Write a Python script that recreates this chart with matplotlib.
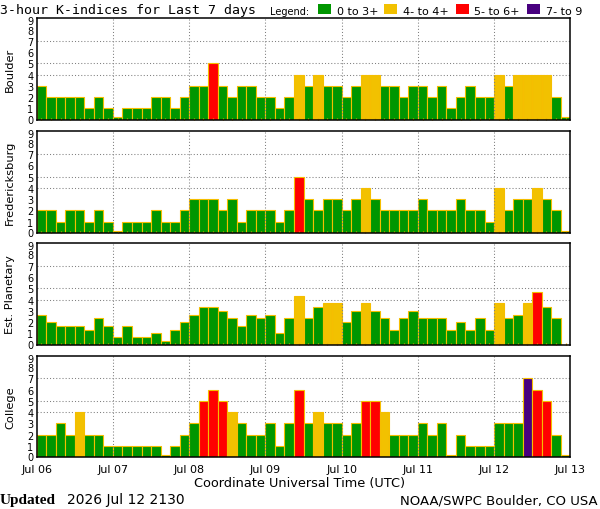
import numpy as np
import matplotlib
matplotlib.use("Agg")
import matplotlib.pyplot as plt
from matplotlib.patches import Rectangle
from matplotlib.transforms import ScaledTranslation

# 3-hour K-indices, 8 values per day, Jul 06 00 UTC .. Jul 12 21 UTC
stations = ["Boulder", "Fredericksburg", "Est. Planetary", "College"]

boulder = [3, 2, 2, 2, 2, 1, 2, 1,
           0, 1, 1, 1, 2, 2, 1, 2,
           3, 3, 5, 3, 2, 3, 3, 2,
           2, 1, 2, 4, 3, 4, 3, 3,
           2, 3, 4, 4, 3, 3, 2, 3,
           3, 2, 3, 1, 2, 3, 2, 2,
           4, 3, 4, 4, 4, 4, 2, 0]

fredericksburg = [2, 2, 1, 2, 2, 1, 2, 1,
                  0, 1, 1, 1, 2, 1, 1, 2,
                  3, 3, 3, 2, 3, 1, 2, 2,
                  2, 1, 2, 5, 3, 2, 3, 3,
                  2, 3, 4, 3, 2, 2, 2, 2,
                  3, 2, 2, 2, 3, 2, 2, 1,
                  4, 2, 3, 3, 4, 3, 2, 0]

planetary = [2.67, 2.0, 1.67, 1.67, 1.67, 1.33, 2.33, 1.67,
             0.67, 1.67, 0.67, 0.67, 1.0, 0.33, 1.33, 2.0,
             2.67, 3.33, 3.33, 3.0, 2.33, 1.67, 2.67, 2.33,
             2.67, 1.0, 2.33, 4.33, 2.33, 3.33, 3.67, 3.67,
             2.0, 3.0, 3.67, 3.0, 2.33, 1.33, 2.33, 3.0,
             2.33, 2.33, 2.33, 1.33, 2.0, 1.33, 2.33, 1.33,
             3.67, 2.33, 2.67, 3.67, 4.67, 3.33, 2.33, np.nan]

college = [2, 2, 3, 2, 4, 2, 2, 1,
           1, 1, 1, 1, 1, 0, 1, 2,
           3, 5, 6, 5, 4, 3, 2, 2,
           3, 1, 3, 6, 3, 4, 3, 3,
           2, 3, 5, 5, 4, 2, 2, 2,
           3, 2, 3, 0, 2, 1, 1, 1,
           3, 3, 3, 7, 6, 5, 2, 0]

day_labels = ["Jul 06", "Jul 07", "Jul 08", "Jul 09",
              "Jul 10", "Jul 11", "Jul 12", "Jul 13"]
legend_labels = ["0 to 3+", "4- to 4+", "5- to 6+", "7- to 9"]

GREEN = "#009600"
YELLOW = "#F2C100"
RED = "#FF0000"
PURPLE = "#48007F"
EDGE = "#F5BE00"
TICK = "#F0A800"
GRID = "#7f7f7f"


def bar_color(k):
    if k < 3.5:
        return GREEN
    if k < 4.5:
        return YELLOW
    if k < 6.5:
        return RED
    return PURPLE


fig = plt.figure(figsize=(6, 5.1), dpi=100)

series = [boulder, fredericksburg, planetary, college]
bottoms = [0.7633, 0.5412, 0.3222, 0.1014]
per_day = 8
n = len(boulder)

# nudge the end labels inward a couple of pixels, as in the original
nudge_down = ScaledTranslation(0, -2 / 100, fig.dpi_scale_trans)
nudge_up = ScaledTranslation(0, 1 / 100, fig.dpi_scale_trans)

for i, (name, vals) in enumerate(zip(stations, series)):
    ax = fig.add_axes([0.0612, bottoms[i], 0.8893, 0.1990])
    vals = np.array(vals, dtype=float)
    ok = ~np.isnan(vals)
    x = np.arange(n) + 0.5
    # zero values still get a thin sliver, like the original
    shown = np.where(vals == 0, 0.2, vals)
    ax.bar(x[ok], shown[ok], width=1.0, color=[bar_color(v) for v in vals[ok]],
           edgecolor=EDGE, linewidth=0.8, zorder=1)

    for lvl in (4, 5, 7):
        ax.axhline(lvl, color=GRID, lw=0.75, ls=(0, (1, 2)), zorder=0.5)
    for d in range(1, n // per_day):
        ax.axvline(d * per_day, color=GRID, lw=0.75, ls=(0, (1, 2)), zorder=2)

    ax.set_xlim(0, n)
    ax.set_ylim(0, 9)
    ax.set_yticks(range(10))
    ax.tick_params(axis="y", length=0, pad=2.5, labelsize=7)
    yt = ax.yaxis.get_major_ticks()
    yt[0].label1.set_transform(yt[0].label1.get_transform() + nudge_up)
    yt[-1].label1.set_transform(yt[-1].label1.get_transform() + nudge_down)

    ax.set_xticks(np.arange(0, n + 1, per_day))
    ax.tick_params(axis="x", which="major", length=0, pad=4.5, labelsize=8)
    if i < 3:
        ax.set_xticks(x, minor=True)
        ax.tick_params(axis="x", which="minor", direction="in", length=1.6,
                       width=0.9, color=TICK)
    else:
        ax.tick_params(axis="x", which="minor", length=0)
    if i == 3:
        ax.set_xticklabels(day_labels)
    else:
        ax.set_xticklabels([])

    for s in ax.spines.values():
        s.set_linewidth(1.1)
    ax.spines["right"].set_linestyle((0, (2, 1)))

    fig.text(10 / 600, bottoms[i] + 0.0995, name, rotation=90,
             ha="center", va="center", fontsize=8.2)

fig.text(0, 0.9735, "3-hour K-indices for Last 7 days", ha="left",
         va="baseline", fontsize=9.5, family="DejaVu Sans Mono")
fig.text(270 / 600, 0.970, "Legend:", ha="left", va="baseline", fontsize=7)

colors = [GREEN, YELLOW, RED, PURPLE]
box_x = [317.7, 384.3, 455.7, 527.0]
text_x = [336.7, 402.7, 474.0, 546.0]
for c, bx, tx, lab in zip(colors, box_x, text_x, legend_labels):
    fig.add_artist(Rectangle((bx / 600, 0.9706), 13 / 600, 10 / 510,
                             transform=fig.transFigure, facecolor=c,
                             edgecolor="none"))
    fig.text(tx / 600, 0.970, lab, ha="left", va="baseline", fontsize=8)

fig.text(0.5, 0.0445, "Coordinate Universal Time (UTC)", ha="center",
         va="baseline", fontsize=9.3)
fig.text(0, 0.0112, "Updated", ha="left", va="baseline", fontsize=11,
         family="Liberation Serif", weight="bold")
fig.text(66.7 / 600, 0.0112, "2026 Jul 12 2130", ha="left", va="baseline",
         fontsize=10)
fig.text(598 / 600, 0.0112, "NOAA/SWPC Boulder, CO USA", ha="right",
         va="baseline", fontsize=9.5)

fig.savefig("out.png", dpi=100)
